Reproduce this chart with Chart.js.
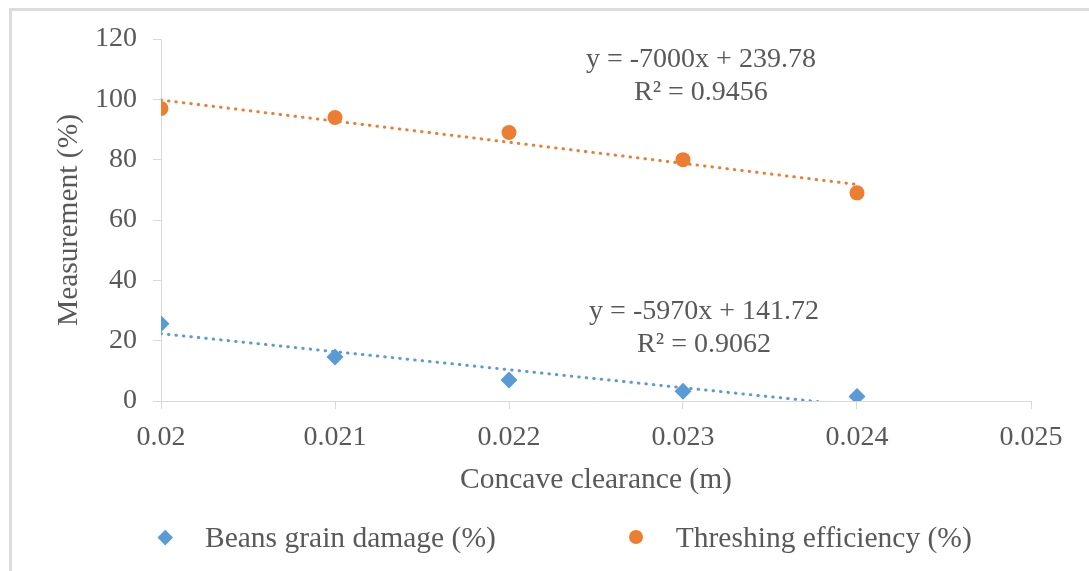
<!DOCTYPE html>
<html>
<head>
<meta charset="utf-8">
<title>Concave clearance vs threshing performance</title>
<script src="https://cdn.jsdelivr.net/npm/chart.js@4.4.1/dist/chart.umd.min.js"></script>
<style>
  html, body { margin: 0; padding: 0; background: #fff; }
  #wrap { position: relative; width: 1089px; height: 571px; overflow: hidden; }
  #frame {
    position: absolute; left: 9px; top: 8px; width: 1200px; height: 700px;
    border-top: 3px solid #dcdcdc; border-left: 3px solid #dcdcdc;
  }
  #plot { position: absolute; left: 0; top: 0; }
  #legend {
    position: absolute; left: 155px; top: 519px; height: 36px;
    display: flex; align-items: center; column-gap: 130px;
    font-family: 'Liberation Serif', 'Times New Roman', serif;
    font-size: 29.5px; color: #595959;
  }
  .item { display: flex; align-items: center; height: 36px; white-space: nowrap; }
  .mark { width: 20px; height: 20px; position: relative; margin-right: 30px; }
  .mark i { position: absolute; left: 3px; top: 3px; width: 14px; height: 14px; }
  .mark i.circle { border-radius: 50%; }
  .mark i.diamond { left: 5px; top: 5px; width: 10.5px; height: 10.5px; transform: rotate(45deg); }
</style>
</head>
<body>
<div id="wrap">
  <div id="frame"></div>
  <canvas id="plot" width="1089" height="571"></canvas>
  <div id="legend"></div>
</div>
<script>
// concave clearance (m)
const clearance = [0.020, 0.021, 0.022, 0.023, 0.024];
const grainDamage = [25.6, 14.6, 7.0, 3.2, 1.5];
const threshEff = [97, 94, 89, 80, 69];

const seriesNames = ['Beans grain damage (%)', 'Threshing efficiency (%)'];

// linear fits shown on the plot
const fitSlope = [-5970, -7000];
const fitIntercept = [141.72, 239.78];
const fitR2 = ['0.9062', '0.9456'];

const xTickLabels = ['0.02', '0.021', '0.022', '0.023', '0.024', '0.025'];
const yTicks = [0, 20, 40, 60, 80, 100, 120];

const BLUE = '#5b9bd5';
const ORANGE = '#ed7d31';
const TEXT = '#595959';
const AXIS = '#d9d9d9';
const FONT = "'Liberation Serif', 'Times New Roman', serif";

function points(ys) {
    return clearance.map((x, i) => ({ x: x, y: ys[i] }));
}

function fitLine(k) {
    const x0 = clearance[0];
    const x1 = clearance[clearance.length - 1];
    return [
        { x: x0, y: fitSlope[k] * x0 + fitIntercept[k] },
        { x: x1, y: fitSlope[k] * x1 + fitIntercept[k] }
    ];
}

function eqText(k) {
    return 'y = ' + fitSlope[k] + 'x + ' + fitIntercept[k].toFixed(2);
}

// where each equation block sits, in data units (x, baseline of first line)
const eqAnchor = [
    { x: 0.023121, y: 27.2 },
    { x: 0.023103, y: 110.7 }
];

const equationLabels = {
    id: 'equationLabels',
    afterDatasetsDraw(chart) {
        const { ctx, scales } = chart;
        ctx.save();
        ctx.font = '28px ' + FONT;
        ctx.fillStyle = TEXT;
        ctx.textAlign = 'center';
        ctx.textBaseline = 'alphabetic';
        eqAnchor.forEach((a, k) => {
            const px = scales.x.getPixelForValue(a.x);
            const py = scales.y.getPixelForValue(a.y);
            ctx.fillText(eqText(k), px, py);
            ctx.fillText('R\u00b2 = ' + fitR2[k], px, py + 33);
        });
        ctx.restore();
    }
};

const trendStyle = {
    type: 'line',
    showLine: true,
    pointRadius: 0,
    borderWidth: 3,
    borderDash: [0.5, 7],
    borderCapStyle: 'round',
    fill: false,
    isTrend: true
};

const chart = new Chart(document.getElementById('plot'), {
    type: 'scatter',
    data: {
        datasets: [
            Object.assign({}, trendStyle, {
                label: 'fit damage',
                data: fitLine(0),
                borderColor: BLUE
            }),
            Object.assign({}, trendStyle, {
                label: 'fit efficiency',
                data: fitLine(1),
                borderColor: ORANGE
            }),
            {
                label: seriesNames[0],
                data: points(grainDamage),
                pointStyle: 'rectRot',
                pointRadius: 8.5,
                pointBorderWidth: 0,
                backgroundColor: BLUE,
                borderColor: BLUE,
                marker: 'diamond'
            },
            {
                label: seriesNames[1],
                data: points(threshEff),
                pointStyle: 'circle',
                pointRadius: 7.5,
                pointBorderWidth: 0,
                backgroundColor: ORANGE,
                borderColor: ORANGE,
                marker: 'circle'
            }
        ]
    },
    options: {
        responsive: false,
        animation: false,
        events: [],
        layout: {
            padding: { left: 0, right: 58, top: 39, bottom: 70 }
        },
        plugins: {
            legend: { display: false },
            tooltip: { enabled: false }
        },
        scales: {
            x: {
                type: 'linear',
                min: 0.02,
                max: 0.025,
                afterFit: (scale) => { scale.height = 100; },
                ticks: {
                    stepSize: 0.001,
                    padding: 12,
                    color: TEXT,
                    font: { family: FONT, size: 28 },
                    maxRotation: 0,
                    callback: (v, i) => xTickLabels[i]
                },
                grid: {
                    drawOnChartArea: false,
                    drawTicks: true,
                    tickLength: 8,
                    color: AXIS
                },
                border: { color: AXIS, width: 1 },
                title: {
                    display: true,
                    text: 'Concave clearance (m)',
                    color: TEXT,
                    font: { family: FONT, size: 29.5 },
                    padding: { top: 0, bottom: 3 }
                }
            },
            y: {
                min: yTicks[0],
                max: yTicks[yTicks.length - 1],
                afterFit: (scale) => { scale.width = 161; },
                afterBuildTicks: (scale) => {
                    scale.ticks = yTicks.map(v => ({ value: v }));
                },
                ticks: {
                    padding: 16,
                    color: TEXT,
                    font: { family: FONT, size: 28 }
                },
                grid: {
                    drawOnChartArea: false,
                    drawTicks: true,
                    tickLength: 8,
                    color: AXIS
                },
                border: { color: AXIS, width: 1 },
                title: {
                    display: true,
                    text: 'Measurement (%)',
                    color: TEXT,
                    font: { family: FONT, size: 29.5 },
                    padding: { top: 52, bottom: 0 }
                }
            }
        }
    },
    plugins: [equationLabels]
});

// legend built from the marker datasets
const legendEl = document.getElementById('legend');
chart.data.datasets.filter(d => !d.isTrend).forEach(d => {
    const item = document.createElement('div');
    item.className = 'item';
    const mark = document.createElement('span');
    mark.className = 'mark';
    const shape = document.createElement('i');
    shape.className = d.marker;
    shape.style.background = d.backgroundColor;
    mark.appendChild(shape);
    const label = document.createElement('span');
    label.textContent = d.label;
    item.appendChild(mark);
    item.appendChild(label);
    legendEl.appendChild(item);
});
</script>
</body>
</html>
